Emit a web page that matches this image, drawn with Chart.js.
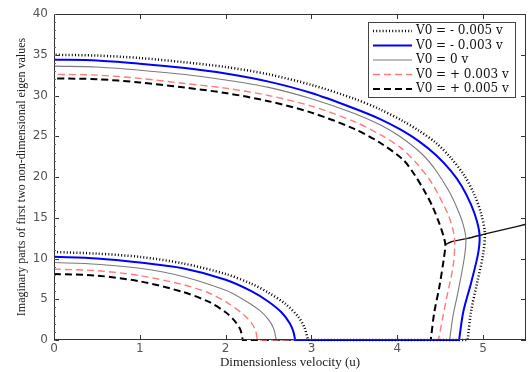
<!DOCTYPE html>
<html>
<head>
<meta charset="utf-8">
<script src="https://cdn.jsdelivr.net/npm/chart.js@4.4.1/dist/chart.umd.min.js"></script>
<style>
    html, body { margin: 0; padding: 0; background: #fff; }
    #wrap { width: 529px; height: 372px; }
</style>
</head>
<body>
<div id="wrap"><canvas id="eigChart" width="529" height="372"></canvas></div>
<script>
// --- DATA ---
const labels = ['V0 = - 0.005 v', 'V0 = - 0.003 v', 'V0 = 0 v', 'V0 = + 0.003 v', 'V0 = + 0.005 v'];
const xTicks = [0, 1, 2, 3, 4, 5];
const yTicks = [0, 5, 10, 15, 20, 25, 30, 35, 40];

// lower mode (first eigen value), u -> Im
const lowU_m005 = [0, 0.5, 1, 1.5, 2, 2.3, 2.5, 2.7, 2.85, 2.92, 2.96];
const lowV_m005 = [10.8, 10.6, 10.2, 9.4, 8.1, 6.9, 5.8, 4.4, 2.8, 1.5, 0];
const lowU_m003 = [0, 0.5, 1, 1.5, 2, 2.3, 2.5, 2.65, 2.75, 2.79, 2.81];
const lowV_m003 = [10.2, 10.0, 9.5, 8.8, 7.4, 6.0, 4.7, 3.4, 2.0, 1.0, 0];
const lowU_0 = [0, 0.5, 1, 1.5, 2, 2.2, 2.4, 2.5, 2.56, 2.59];
const lowV_0 = [9.5, 9.3, 8.8, 7.8, 6.1, 5.0, 3.6, 2.5, 1.4, 0];
const lowU_p003 = [0, 0.5, 1, 1.5, 1.8, 2.0, 2.2, 2.3, 2.35, 2.37];
const lowV_p003 = [8.7, 8.5, 7.9, 6.8, 5.8, 4.7, 3.2, 2.1, 1.1, 0];
const lowU_p005 = [0, 0.5, 1, 1.5, 1.8, 2.0, 2.1, 2.17, 2.2];
const lowV_p005 = [8.1, 7.9, 7.2, 5.9, 4.7, 3.4, 2.4, 1.3, 0];

// upper mode (second eigen value), from u = 0 down to the axis
const upU_m005 = [0, 0.5, 1, 1.5, 2, 2.5, 3, 3.5, 3.8, 4.06, 4.25, 4.45, 4.62, 4.78, 4.9, 4.98, 5.02, 5.0, 4.93, 4.86, 4.82];
const upV_m005 = [35.0, 34.9, 34.6, 34.1, 33.5, 32.6, 31.3, 29.6, 28.3, 26.9, 25.7, 24.2, 22.4, 20.2, 17.8, 15.4, 13.1, 10.5, 7.0, 3.5, 0];
const upU_m003 = [0, 0.5, 1, 1.5, 2, 2.5, 3, 3.5, 3.8, 4.04, 4.25, 4.45, 4.62, 4.75, 4.86, 4.93, 4.96, 4.94, 4.86, 4.77, 4.72];
const upV_m003 = [34.4, 34.3, 33.9, 33.4, 32.7, 31.7, 30.3, 28.4, 27.1, 25.8, 24.4, 22.7, 20.8, 18.9, 16.6, 14.5, 12.7, 10.5, 7.0, 3.5, 0];
const upU_0 = [0, 0.5, 1, 1.5, 2, 2.5, 3, 3.5, 3.8, 4.04, 4.3, 4.45, 4.6, 4.7, 4.77, 4.8, 4.78, 4.71, 4.65, 4.61];
const upV_0 = [33.6, 33.5, 33.1, 32.6, 31.9, 31.0, 29.6, 27.8, 26.4, 24.9, 22.7, 20.8, 18.3, 16.1, 14.1, 12.3, 10.0, 6.0, 3.0, 0];
const upU_p003 = [0, 0.5, 1, 1.5, 2, 2.5, 3, 3.5, 3.8, 4.04, 4.24, 4.4, 4.52, 4.6, 4.65, 4.67, 4.65, 4.57, 4.48];
const upV_p003 = [32.6, 32.5, 32.1, 31.5, 30.9, 30.0, 28.7, 26.8, 25.2, 23.6, 21.5, 19.3, 17.0, 15.2, 13.5, 11.9, 9.0, 4.9, 0];
const upU_p005 = [0, 0.5, 1, 1.5, 2, 2.5, 3, 3.5, 3.8, 4.07, 4.2, 4.31, 4.41, 4.49, 4.54, 4.56, 4.54, 4.49, 4.43, 4.39];
const upV_p005 = [32.1, 32.0, 31.6, 31.0, 30.3, 29.3, 27.9, 25.9, 24.2, 22.1, 20.3, 18.4, 16.4, 14.3, 12.7, 11.7, 9.8, 6.5, 3.3, 0];

// coupled branch after the merge
const flutU = [4.56, 4.63, 4.82, 5.05, 5.3, 5.5];
const flutV = [11.7, 12.06, 12.47, 13.09, 13.7, 14.2];

// --- HELPERS ---
// lower branch, then along Im = 0, then up the upper branch
// (axis points repeated so the spline keeps a sharp corner there)
function branchPath(lu, lv, uu, uv) {
    const pts = lu.map((u, i) => ({ x: u, y: lv[i] }));
    pts.push({ x: lu[lu.length - 1], y: lv[lv.length - 1] });
    pts.push({ x: uu[uu.length - 1], y: uv[uv.length - 1] });
    for (let i = uu.length - 1; i >= 0; i--) pts.push({ x: uu[i], y: uv[i] });
    return pts;
}

const styles = [
    { color: '#000000', width: 2.5, dash: [1, 2.2] },
    { color: '#0000ff', width: 2, dash: [] },
    { color: '#7a7a7a', width: 1.1, dash: [] },
    { color: '#ff7a7a', width: 1.4, dash: [7, 4] },
    { color: '#000000', width: 2, dash: [7, 4] }
];

const paths = [
    branchPath(lowU_m005, lowV_m005, upU_m005, upV_m005),
    branchPath(lowU_m003, lowV_m003, upU_m003, upV_m003),
    branchPath(lowU_0, lowV_0, upU_0, upV_0),
    branchPath(lowU_p003, lowV_p003, upU_p003, upV_p003),
    branchPath(lowU_p005, lowV_p005, upU_p005, upV_p005)
];

const datasets = paths.map((p, i) => ({
    label: labels[i],
    data: p,
    showLine: true,
    borderColor: styles[i].color,
    borderWidth: styles[i].width,
    borderDash: styles[i].dash,
    pointRadius: 0,
    tension: 0.3,
    clip: false
}));
datasets.push({
    label: '',
    data: flutU.map((u, i) => ({ x: u, y: flutV[i] })),
    showLine: true,
    borderColor: '#111111',
    borderWidth: 1.4,
    pointRadius: 0,
    tension: 0.2,
    clip: false
});

// --- MATLAB STYLE BOX + INWARD TICKS ---
const boxTicks = {
    id: 'boxTicks',
    afterDraw(chart) {
        const { ctx, chartArea: a, scales: { x, y } } = chart;
        ctx.save();
        ctx.strokeStyle = '#333';
        ctx.lineWidth = 1;
        ctx.strokeRect(a.left + 0.5, a.top + 0.5, a.right - a.left - 1, a.bottom - a.top - 1);
        ctx.beginPath();
        xTicks.forEach(t => {
            const px = Math.round(x.getPixelForValue(t)) + 0.5;
            ctx.moveTo(px, a.bottom); ctx.lineTo(px, a.bottom - 5);
            ctx.moveTo(px, a.top); ctx.lineTo(px, a.top + 5);
        });
        yTicks.forEach(t => {
            const py = Math.round(y.getPixelForValue(t)) + 0.5;
            ctx.moveTo(a.left, py); ctx.lineTo(a.left + 5, py);
            ctx.moveTo(a.right, py); ctx.lineTo(a.right - 5, py);
        });
        ctx.stroke();
        // minor ticks on the left axis
        ctx.beginPath();
        ctx.strokeStyle = '#666';
        for (let v = 0; v <= 40; v++) {
            const py = Math.round(y.getPixelForValue(v)) + 0.5;
            ctx.moveTo(a.left, py); ctx.lineTo(a.left + 2, py);
        }
        ctx.stroke();
        ctx.restore();
    }
};

// --- LEGEND BOX ---
const legendBox = {
    id: 'legendBox',
    afterDraw(chart) {
        const ctx = chart.ctx;
        const bx = 368, by = 22, bw = 147, bh = 75;
        ctx.save();
        ctx.fillStyle = '#fff';
        ctx.fillRect(bx, by, bw, bh);
        ctx.strokeStyle = '#444';
        ctx.lineWidth = 1;
        ctx.strokeRect(bx + 0.5, by + 0.5, bw, bh);
        ctx.font = '12px "DejaVu Serif"';
        ctx.textBaseline = 'middle';
        labels.forEach((lab, i) => {
            const ly = by + 9 + i * 14.5;
            ctx.beginPath();
            ctx.strokeStyle = styles[i].color;
            ctx.lineWidth = styles[i].width;
            ctx.setLineDash(styles[i].dash);
            ctx.moveTo(bx + 5, ly);
            ctx.lineTo(bx + 44, ly);
            ctx.stroke();
            ctx.setLineDash([]);
            ctx.fillStyle = '#111';
            ctx.fillText(lab, bx + 48, ly);
        });
        ctx.restore();
    }
};

// --- CHART ---
const ctx = document.getElementById('eigChart').getContext('2d');
const eigChart = new Chart(ctx, {
    type: 'scatter',
    data: { datasets: datasets },
    options: {
        responsive: false,
        animation: false,
        layout: { padding: { top: 14, right: 3, left: 0, bottom: 0 } },
        plugins: { legend: { display: false }, tooltip: { enabled: false } },
        scales: {
            x: {
                type: 'linear',
                min: 0,
                max: 5.5,
                afterFit: s => { s.height = 32; },
                afterBuildTicks: s => { s.ticks = xTicks.map(v => ({ value: v })); },
                grid: { display: false, drawTicks: false },
                border: { display: false },
                ticks: { color: '#555', padding: 2, font: { family: 'DejaVu Sans', size: 12 } },
                title: {
                    display: true,
                    text: 'Dimensionless velocity (u)',
                    color: '#222',
                    font: { family: 'Liberation Serif', size: 13 },
                    padding: { top: 0, bottom: 2 }
                }
            },
            y: {
                type: 'linear',
                min: 0,
                max: 40,
                afterFit: s => { s.width = 54; },
                afterBuildTicks: s => { s.ticks = yTicks.map(v => ({ value: v })); },
                grid: { display: false, drawTicks: false },
                border: { display: false },
                ticks: { color: '#555', padding: 6, font: { family: 'DejaVu Sans', size: 12 } },
                title: {
                    display: true,
                    text: 'Imaginary parts of first two non-dimensional eigen values',
                    color: '#222',
                    font: { family: 'Liberation Serif', size: 12 },
                    padding: { top: 15, bottom: 0 }
                }
            }
        }
    },
    plugins: [boxTicks, legendBox]
});
</script>
</body>
</html>
